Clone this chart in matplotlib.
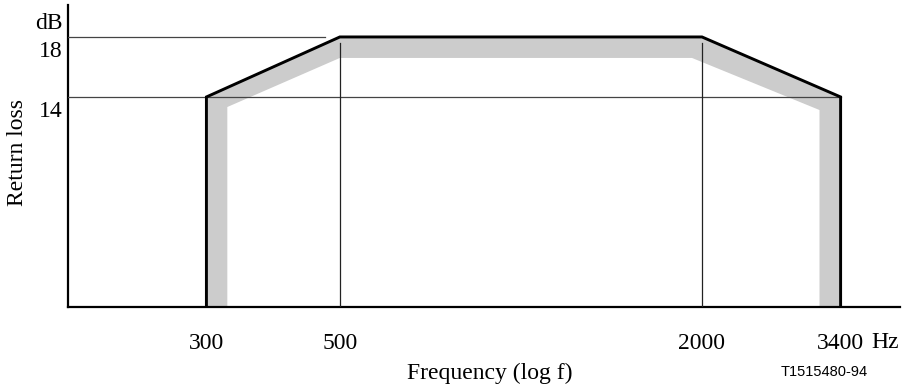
import matplotlib.pyplot as plt
import matplotlib.transforms as mtransforms
import numpy as np

# Return loss mask (limit line), frequency in Hz, level in dB
mask_freq = [300, 300, 500, 2000, 3400, 3400]
mask_db = [0, 14, 18, 18, 14, 0]

# Inner edge of the shaded tolerance band
band_freq = [325, 325, 500, 1925, 3136, 3136]
band_db = [0, 13.33, 16.6, 16.6, 13.13, 0]

freq_ticks = [300, 500, 2000, 3400]
db_marks = [18, 14]

plt.rcParams['font.family'] = ['Liberation Serif', 'DejaVu Serif']

fig = plt.figure(figsize=(9.07, 3.9), dpi=100)
ax = fig.add_axes([68 / 907, 83 / 390, 832 / 907, 302 / 390])
ax.set_xscale('log')
ax.set_xlim(176.6, 4268)
ax.set_ylim(0, 20.13)

# Reference lines
ax.plot([176.6, 472], [18, 18], color='#444444', lw=0.9, zorder=3)
ax.plot([176.6, 3400], [14, 14], color='#444444', lw=0.9, zorder=3)
ax.plot([500, 500], [0, 17.6], color='#222222', lw=0.9, zorder=3)
ax.plot([2000, 2000], [0, 17.6], color='#222222', lw=0.9, zorder=3)

# Shaded band: between mask line and its inner edge
poly_x = np.concatenate([mask_freq, band_freq[::-1]])
poly_y = np.concatenate([mask_db, band_db[::-1]])
ax.fill(poly_x, poly_y, color='#cccccc', lw=0, zorder=2)

# Mask line
ax.plot(mask_freq, mask_db, color='black', lw=2.1, solid_joinstyle='miter', zorder=4)

for side in ['top', 'right']:
    ax.spines[side].set_visible(False)
for side in ['left', 'bottom']:
    ax.spines[side].set_linewidth(1.6)

fs = 17
ax.set_xticks(freq_ticks)
ax.set_xticklabels([str(f) for f in freq_ticks])
ax.xaxis.set_minor_locator(plt.NullLocator())
ax.tick_params(axis='x', length=0, pad=19, labelsize=fs)
ax.set_yticks([])

trans = mtransforms.blended_transform_factory(ax.transAxes, ax.transData)
for v in db_marks:
    ax.text(-0.007, v - 0.25, str(v), transform=trans, ha='right', va='top', fontsize=fs)
ax.text(-0.007, 18.2, 'dB', transform=trans, ha='right', va='bottom', fontsize=fs)

fig.text(885 / 907, 1 - 343 / 390, 'Hz', ha='center', va='center', fontsize=fs)
fig.text(490 / 907, 1 - 373 / 390, 'Frequency (log f)', ha='center', va='center', fontsize=fs)
fig.text(18 / 907, 1 - 153 / 390, 'Return loss', ha='center', va='center', rotation=90, fontsize=fs)
fig.text(824 / 907, 1 - 372 / 390, 'T1515480-94', ha='center', va='center',
         fontsize=10.5, family='Liberation Sans')

fig.savefig('out.png', dpi=100)
